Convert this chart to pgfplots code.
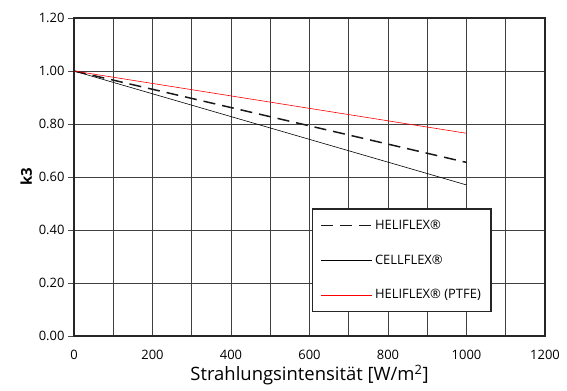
\documentclass[border=0pt]{standalone}
\usepackage{pgfplots}
\pgfplotsset{compat=1.18}
\usepackage{fontspec}
\setmainfont{Open Sans}
\begin{document}
\begin{tikzpicture}
\begin{axis}[
  scale only axis,
  width=471bp, height=318bp,
  xmin=0, xmax=1200, ymin=0, ymax=1.2,
  xtick={0,200,...,1200},
  minor xtick={100,300,...,1100},
  ytick={0,0.2,...,1.2},
  xticklabel style={yshift=-5bp, /pgf/number format/1000 sep={}},
  yticklabel style={/pgf/number format/fixed, /pgf/number format/fixed zerofill, /pgf/number format/precision=2},
  /pgf/number format/assume math mode=true,
  grid=both,
  major grid style={black!75, line width=0.7pt},
  minor grid style={black!75, line width=0.7pt},
  axis line style={line width=1.4pt, black!85},
  tick style={black!70, line width=0.6pt},
  major tick length=6bp,
  tick align=outside,
  xtick pos=bottom, ytick pos=left,
  xtick style={draw=none},
  minor tick length=0pt,
  tick label style={font=\fontsize{13}{15}\selectfont},
  xlabel={Strahlungsintensität [W/m\textsuperscript{2}]},
  xlabel style={font=\fontsize{18.5}{20}\selectfont, yshift=2bp},
  ylabel={\textbf{k3}},
  ylabel style={font=\fontsize{15}{17}\selectfont},
  legend cell align=left,
  legend style={at={(axis cs:606,0.09)}, anchor=south west, draw=black!85, line width=1.4pt,
    font=\fontsize{13}{15}\selectfont, row sep=20bp, inner xsep=8bp, inner ysep=9bp},
]
\addplot[draw=black!90, line width=1.5pt, dash pattern=on 12bp off 7bp,
  legend image code/.code={\draw[black!90, line width=1.5pt, dash pattern=on 12bp off 7bp] (0bp,0bp) -- (51bp,0bp);}]
  coordinates {(0,1.0) (1000,0.655)};
\addlegendentry{HELIFLEX®}
\addplot[draw=black, line width=0.6pt,
  legend image code/.code={\draw[black, line width=0.6pt] (0bp,0bp) -- (51bp,0bp);}]
  coordinates {(0,1.0) (1000,0.57)};
\addlegendentry{CELLFLEX®}
\addplot[draw=red, line width=0.6pt,
  legend image code/.code={\draw[red, line width=0.6pt] (0bp,0bp) -- (51bp,0bp);}]
  coordinates {(0,1.0) (1000,0.765)};
\addlegendentry{HELIFLEX® (PTFE)}
\end{axis}
\path (current axis.south west) ++(-74bp,-55bp) coordinate (bbA);
\path (current axis.north east) ++(22bp,18bp) coordinate (bbB);
\pgfresetboundingbox
\path (bbA) rectangle (bbB);
\end{tikzpicture}
\end{document}
